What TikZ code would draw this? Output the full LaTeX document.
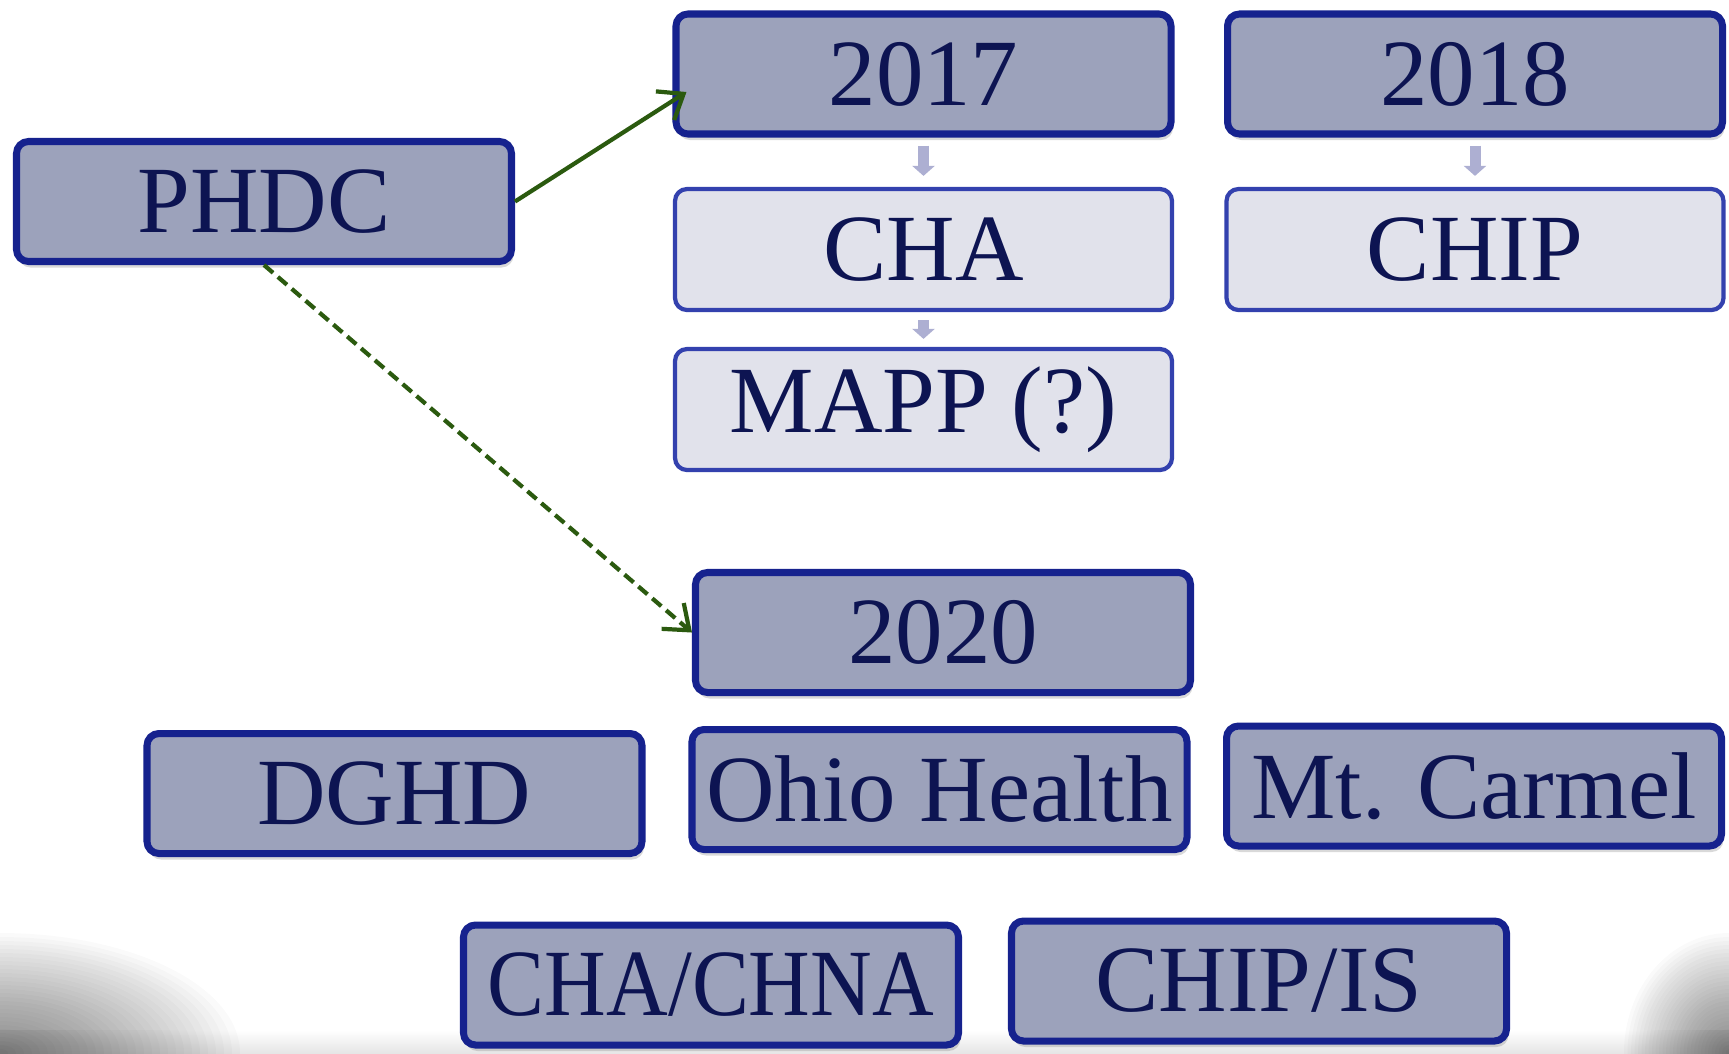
\documentclass[tikz,border=0pt]{standalone}
\usepackage{fontspec}
\setmainfont{Liberation Serif}
\usetikzlibrary{shadows,arrows.meta,calc}
\definecolor{boxfill}{HTML}{9CA2BB}
\definecolor{boxline}{HTML}{16228E}
\definecolor{lightfill}{HTML}{E1E2EB}
\definecolor{lightline}{HTML}{3341AE}
\definecolor{textnavy}{HTML}{0D1452}
\definecolor{arrowgreen}{HTML}{2B5A0F}
\definecolor{arrowlav}{HTML}{ADAFD2}

\begin{document}
\begin{tikzpicture}
    % Define styles
    \tikzset{
        yearbox/.style={draw=boxline, line width=2pt, fill=boxfill, rounded corners=0.12cm, minimum width=4.95cm, minimum height=1.2cm, inner sep=0pt, text=textnavy, font=\fontsize{27}{32}\selectfont, drop shadow={shadow xshift=0.02cm, shadow yshift=-0.06cm, opacity=0.3}},
        stepbox/.style={draw=lightline, line width=1.2pt, fill=lightfill, rounded corners=0.12cm, minimum width=4.97cm, minimum height=1.21cm, inner sep=0pt, text=textnavy, font=\fontsize{27}{32}\selectfont},
        smallarrow/.style={-{Triangle[width=0.22cm, length=0.1cm]}, line width=0.11cm, draw=arrowlav},
        greenarrow/.style={-{Straight Barb[length=0.22cm, width=0.34cm]}, line width=1.2pt, draw=arrowgreen}
    }
    \useasboundingbox (0,0) rectangle (17.29,-10.53);

    % Vignette in the bottom corners
    \begin{scope}
        \clip (0,0) rectangle (17.29,-10.53);
        \shade[top color=white, bottom color=black!10] (0,-10.3) rectangle (17.29,-10.53);
        \foreach \k in {1,...,30} {
            \fill[black, opacity=0.02] (0,-10.53) ellipse ({0.08*\k} and {0.04*\k});
            \fill[black, opacity=0.02] (17.29,-10.53) ellipse ({0.035*\k} and {0.04*\k});
        }
    \end{scope}

    % Start
    \node[yearbox] (phdc) at (2.64,-2.015) {PHDC};

    % 2017 and 2018 column
    \node[yearbox] (y2017) at (9.235,-0.74) {2017};
    \node[yearbox] (y2018) at (14.75,-0.74) {2018};
    \node[stepbox] (cha) at (9.235,-2.495) {CHA};
    \node[stepbox] (chip) at (14.75,-2.495) {CHIP};
    \node[stepbox] (mapp) at (9.235,-4.095) {MAPP (?)};

    % 2020 and partners
    \node[yearbox] (y2020) at (9.43,-6.325) {2020};
    \node[yearbox] (dghd) at (3.945,-7.935) {DGHD};
    \node[yearbox] (ohio) at (9.395,-7.895) {Ohio Health};
    \node[yearbox] (carmel) at (14.74,-7.86) {Mt. Carmel};
    \node[yearbox] (chachna) at (7.11,-9.85) {\scalebox{0.9}[1]{CHA/CHNA}};
    \node[yearbox] (chipis) at (12.59,-9.81) {CHIP/IS};

    % Small arrows between steps
    \draw[smallarrow, shorten <=0.08cm, shorten >=0.11cm] (y2017) -- (cha);
    \draw[smallarrow, shorten <=0.08cm, shorten >=0.11cm] (y2018) -- (chip);
    \draw[smallarrow, shorten <=0.08cm, shorten >=0.08cm] (cha) -- (mapp);

    % Arrows from PHDC
    \coordinate (tip17) at ($(y2017.west)+(0.14,-0.18)$);
    \draw[greenarrow] (phdc.east) -- (tip17);
    \draw[greenarrow, dash pattern=on 3.4pt off 1.8pt] (phdc.south) -- (y2020.west);

\end{tikzpicture}
\end{document}
